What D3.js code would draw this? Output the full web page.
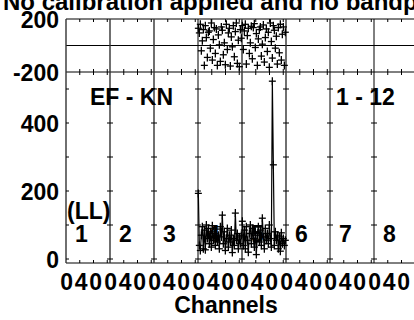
<!DOCTYPE html>
<html>
<head>
<meta charset="utf-8">
<script src="https://cdn.jsdelivr.net/npm/d3@7"></script>
<style>
  html, body { margin: 0; padding: 0; background: #fff; }
  svg { display: block; }
  text { font-family: "Liberation Sans", Arial, Helvetica, sans-serif; font-weight: bold; fill: #000; }
</style>
</head>
<body>
<svg id="chart" width="414" height="320"></svg>
<script>
// ---------------- data ----------------
const titleText = "No calibration applied and no bandpass";
const xAxisTitle = "Channels";
const baselineLabel = "EF - KN";
const ifRangeLabel = "1 - 12";
const polLabel = "(LL)";
const panelNumbers = [1, 2, 3, 4, 5, 6, 7, 8];
const channelTickLabels = [0, 40];
const channelMinorTicks = [20, 40, 60];
const ampTickLabels = [0, 200, 400];
const ampMinorTicks = [0, 100, 200, 300, 400, 500];
const phaseTickLabels = [-200, 200];

// IF 4 and IF 5 (panels 4 and 5), one value per plotted channel
const amp4 = [193, 40, 25, 70, 95, 30, 85, 27, 100, 60, 90, 45, 80, 35, 98, 55, 75, 40, 88, 50, 70, 30,
              95, 65, 129, 45, 80, 25, 60, 90, 35, 70, 50, 85, 19, 60, 40, 135, 55, 75, 30, 65, 45, 70];
const amp5 = [111, 40, 85, 30, 95, 55, 20, 75, 100, 45, 90, 60, 35, 80, 13, 70, 95, 50, 85, 40, 120, 65,
              30, 90, 55, 75, 45, 100, 60, 35, 523, 277, 40, 80, 55, 70, 30, 65, 23, 77, 45, 60, 40, 55];
const phase4 = [130, 95, 160, -40, 35, 120, -150, 150, 60, -90, 100, 110, -20, 170, -110, 45, 135, -60, 125, -150, 80, 5,
                -120, 140, 115, -70, 20, -145, 160, -30, 95, 130, -155, 65, -10, 150, -85, 105, 170, -135, 40, -160, 120, 55];
const phase5 = [150, -30, 110, 160, -140, 75, 130, -60, 20, 145, -100, 135, 165, -15, 90, -150, 50, 120, 140, -80, 10, 155,
                -125, 60, 125, -45, 100, -165, 170, 30, -95, 150, 115, -20, 70, -140, 135, -55, 160, -110, 85, 140, -150, 100];

// ---------------- layout ----------------
const svg = d3.select("#chart");
const W = 414;
const nChan = 64;
const panelX = d3.scaleLinear().domain([0, panelNumbers.length]).range([66, 66 + 44 * panelNumbers.length]);
const chanX = d3.scaleLinear().domain([0, nChan]).range([0, 44]);
const phaseY = d3.scaleLinear().domain([-200, 200]).range([72, 19]);
const ampY = d3.scaleLinear().domain([0, 500]).range([259, 89]);
const ampBottom = 263;
const left = panelX(0);

const g = svg.append("g");
const ink = "#000";

// horizontal frame lines
[phaseY(200), phaseY(0), phaseY(-200), ampBottom].forEach(y => {
  g.append("line").attr("x1", left).attr("x2", W).attr("y1", y).attr("y2", y)
    .attr("stroke", ink).attr("stroke-width", 1);
});

// panel separators + ticks
panelNumbers.forEach((p, i) => {
  const x0 = panelX(i);
  const crisp = (i % 4 === 3 || i >= 6);
  g.append("line").attr("x1", x0).attr("x2", x0).attr("y1", phaseY(200)).attr("y2", ampBottom)
    .attr("stroke", crisp ? "#000" : "#333").attr("stroke-width", crisp ? 1 : 1.4);
  ampMinorTicks.forEach(v => {
    const y = ampY(v);
    g.append("line").attr("x1", i === 0 ? x0 : x0 - 3).attr("x2", x0 + 3).attr("y1", y).attr("y2", y)
      .attr("stroke", ink).attr("stroke-width", 1);
  });
  channelMinorTicks.forEach(c => {
    const x = x0 + chanX(c);
    g.append("line").attr("x1", x).attr("x2", x).attr("y1", phaseY(200)).attr("y2", phaseY(200) + 3)
      .attr("stroke", ink).attr("stroke-width", 1);
    g.append("line").attr("x1", x).attr("x2", x).attr("y1", phaseY(-200) - 3).attr("y2", phaseY(-200) + 3)
      .attr("stroke", ink).attr("stroke-width", 1);
    g.append("line").attr("x1", x).attr("x2", x).attr("y1", ampBottom - 3).attr("y2", ampBottom)
      .attr("stroke", ink).attr("stroke-width", 1);
  });
  channelTickLabels.forEach(c => {
    const t = g.append("text").attr("y", 290).attr("font-size", 23).text(c);
    if (c === 0) t.attr("x", x0 + chanX(c) + 0.7).attr("text-anchor", "middle");
    else t.attr("x", x0 + chanX(c) - 18.7).attr("text-anchor", "start").attr("letter-spacing", 1.7);
  });
  g.append("text").attr("x", x0 + 15.5).attr("y", 242).attr("text-anchor", "middle")
    .attr("font-size", 23).text(p);
});

// y labels
ampTickLabels.forEach(v => {
  g.append("text").attr("x", 59).attr("y", ampY(v) + 8.5).attr("text-anchor", "end")
    .attr("font-size", 23).text(v);
});
phaseTickLabels.forEach(v => {
  g.append("text").attr("x", 59).attr("y", phaseY(v) + 8.5).attr("text-anchor", "end")
    .attr("font-size", 23).text(v);
});

// data
const series = [
  { panel: 3, amp: amp4, phase: phase4 },
  { panel: 4, amp: amp5, phase: phase5 }
];
const cross = (sel, x, y, hw, hh) => {
  sel.append("line").attr("x1", x - hw).attr("x2", x + hw).attr("y1", y).attr("y2", y)
    .attr("stroke", ink).attr("stroke-width", 1.3);
  sel.append("line").attr("x1", x).attr("x2", x).attr("y1", y - hh).attr("y2", y + hh)
    .attr("stroke", ink).attr("stroke-width", 1.3);
};
series.forEach(s => {
  const x0 = panelX(s.panel);
  const step = nChan / s.amp.length;
  const xOf = i => x0 + chanX(i * step + 0.5);
  const line = d3.line().x((d, i) => xOf(i)).y(d => ampY(d));
  g.append("path").datum(s.amp).attr("d", line).attr("fill", "none")
    .attr("stroke", ink).attr("stroke-width", 1.2);
  const dg = g.append("g");
  s.amp.forEach((v, i) => cross(dg, xOf(i), ampY(v), 3.5, 4));
  const pg = g.append("g");
  s.phase.forEach((v, i) => cross(pg, xOf(i), phaseY(v), 3.5, 4));
});

// annotations
g.append("text").attr("x", 90).attr("y", 104.5).attr("font-size", 23).text(baselineLabel);
g.append("text").attr("x", 336).attr("y", 104.5).attr("font-size", 23).text(ifRangeLabel);
g.append("text").attr("x", 67).attr("y", 219).attr("font-size", 23).text(polLabel);
g.append("text").attr("x", 3).attr("y", 10).attr("font-size", 24).text(titleText);
g.append("text").attr("x", 226).attr("y", 313).attr("text-anchor", "middle").attr("font-size", 23).text(xAxisTitle);
</script>
</body>
</html>
